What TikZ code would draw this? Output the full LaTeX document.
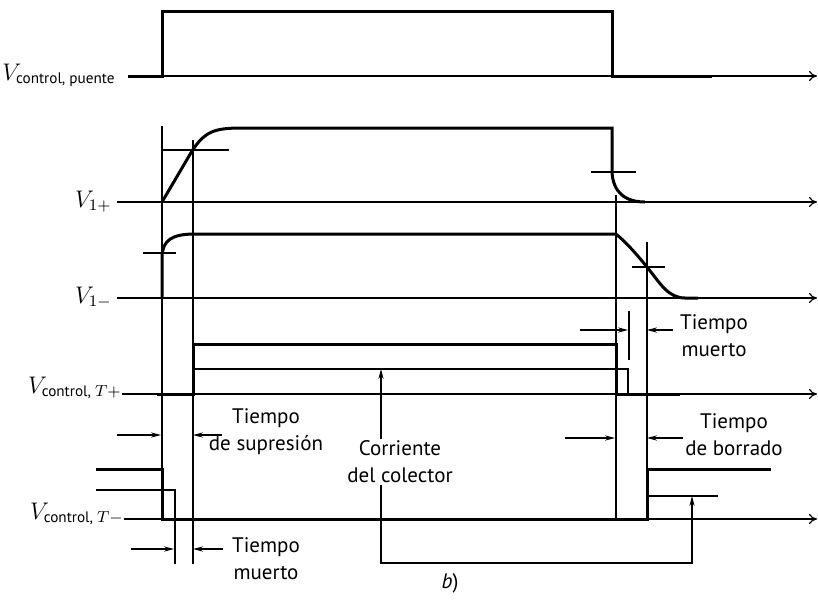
\documentclass[tikz,border=0pt]{standalone}
\usepackage{amsmath}
\usepackage{fontspec}
\setsansfont{PT Sans}
\usetikzlibrary{arrows.meta}

\begin{document}
\begin{tikzpicture}[x=0.5pt, y=-0.5pt,
  axis/.style={line width=0.6pt, -{To[length=4pt,width=5pt]}},
  wave/.style={line width=1.5pt, line join=miter},
  guide/.style={line width=0.6pt},
  tarr/.style={line width=0.6pt, -{Stealth[length=5pt,width=2.6pt]}},
  vlab/.style={anchor=base east, inner sep=0pt, font=\large},
  tlab/.style={font=\sffamily\fontsize{10.5}{13.5}\selectfont, align=center, inner sep=1pt}
]
\useasboundingbox (0,0) rectangle (818,602);

% Axis labels
\node[vlab] (lpuente) at (116,80)  {$V_{\textsf{\fontsize{7.6}{8}\selectfont control, puente}}$};
\node[vlab] (lvpos)   at (112,207) {$V_{1+}$};
\node[vlab] (lvneg)   at (112,303) {$V_{1-}$};
\node[vlab] (ltpos)   at (122,393) {$V_{\textsf{\fontsize{7.6}{8}\selectfont control, }T+}$};
\node[vlab] (ltneg)   at (124,519) {$V_{\textsf{\fontsize{7.6}{8}\selectfont control, }T-}$};

% Axes
\draw[axis] (128,76) -- (817,76);
\draw[axis] (117,202) -- (817,202);
\draw[axis] (117,298) -- (817,298);
\draw[axis] (ltpos.east |- 0,394) -- (817,394);
\draw[axis] (ltneg.east |- 0,519) -- (817,519);

% Guide lines
\draw[guide] (162,126) -- (162,519);
\draw[guide] (193,140) -- (193,564);
\draw[guide] (175,490) -- (175,564);
\draw[guide] (616,195) -- (616,519);
\draw[guide] (647,242) -- (647,519);
\draw[guide] (629,311) -- (629,360);
\draw[guide] (162,150) -- (229,150);
\draw[guide] (591,172) -- (636,172);
\draw[guide] (143,253) -- (176,253);
\draw[guide] (632,267) -- (665,267);

% Bridge control
\draw[wave] (128,76) -- (162,76) -- (162,11) -- (612,11) -- (612,76) -- (712,76);

% V1+
\draw[wave] (162,202) -- (192,151) .. controls (205,131) and (215,128) .. (242,128)
  -- (612,128) -- (612,172) .. controls (613,192) and (625,202) .. (645,202);

% V1-
\draw[wave] (162,298) -- (162,256) .. controls (163,240) and (172,234) .. (195,234)
  -- (616,234) .. controls (628,244) and (638,256) .. (647,267)
  .. controls (660,283) and (668,298) .. (685,298) -- (698,298);

% Control T+
\draw[wave] (157,394) -- (193,394) -- (193,344) -- (616,344) -- (616,394) -- (680,394);
\draw[guide] (193,369) -- (628,369) -- (628,394);

% Control T-
\draw[wave] (96,469) -- (162,469) -- (162,519) -- (647,519) -- (647,469) -- (771,469);
\draw[guide] (96,490) -- (175,490) -- (175,519);
\draw[guide] (647,496) -- (718,496);

% Time labels
\node[tlab] (tmuerto1) at (714,336) {Tiempo\\muerto};
\node[tlab] (tsupres)  at (266,432) {Tiempo\\de supresi\'on};
\node[tlab] (tborrado) at (734,435) {Tiempo\\de borrado};
\node[tlab] (tmuerto2) at (266,559) {Tiempo\\muerto};

% Markers
\draw[tarr] (580,330) -- (628,330);
\draw[tarr] (673,330) -- (647,330);
\draw[tarr] (117,435) -- (161,435);
\draw[tarr] (222,435) -- (193,435);
\draw[tarr] (565,438) -- (615,438);
\draw[tarr] (683,438) -- (647,438);
\draw[tarr] (131,549) -- (174,549);
\draw[tarr] (223,549) -- (193,549);

% Collector current
\draw[line width=0.6pt, {Stealth[length=5pt,width=2.6pt]}-{Stealth[length=5pt,width=2.6pt]}]
  (381,369) -- (381,563) -- (692,563) -- (692,496);
\node[tlab, fill=white] (icol) at (400,462) {Corriente\\del colector};

\node[font=\sffamily\fontsize{10.5}{12}\selectfont] (cap) at (450,583) {\textit{b})};
\end{tikzpicture}
\end{document}
